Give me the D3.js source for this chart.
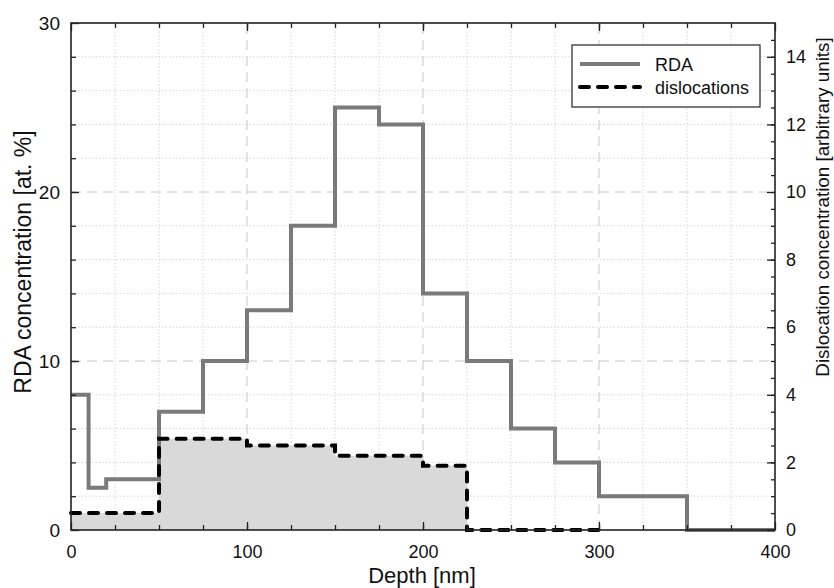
<!DOCTYPE html>
<html>
<head>
<meta charset="utf-8">
<script src="https://cdn.jsdelivr.net/npm/d3@7"></script>
<style>
  body { margin: 0; background: #fff; }
  svg text { font-family: "Liberation Sans", Arial, sans-serif; fill: #111; }
</style>
</head>
<body>
<div id="chart"></div>
<script>
var width = 834,
    height = 588;

var margin = {top: 23, right: 59, bottom: 58, left: 71};

// step edges (nm) and values
var rdaEdges = [0, 10, 20, 50, 75, 100, 125, 150, 175, 200, 225, 250, 275, 300, 350, 400];
var rdaValues = [8, 2.5, 3, 7, 10, 13, 18, 25, 24, 14, 10, 6, 4, 2, 0];

var disEdges = [0, 50, 100, 150, 200, 225, 300];
var disValues = [0.5, 2.7, 2.5, 2.2, 1.9, 0];

var xTicks = [0, 100, 200, 300, 400];
var yLeftTicks = [0, 10, 20, 30];
var yRightTicks = [0, 2, 4, 6, 8, 10, 12, 14];

var x = d3.scaleLinear().domain([0, 400]).range([margin.left, width - margin.right]);
var y = d3.scaleLinear().domain([0, 30]).range([height - margin.bottom, margin.top]);
var y2 = d3.scaleLinear().domain([0, 15]).range([height - margin.bottom, margin.top]);

var svg = d3.select("#chart").append("svg")
    .attr("width", width)
    .attr("height", height);

function steps(edges, values) {
    var pts = [];
    values.forEach(function(v, i) {
        pts.push([edges[i], v]);
        pts.push([edges[i + 1], v]);
    });
    return pts;
}

var x0 = x(0), x1 = x(400), yb = y(0), yt = y(30);

// grid: minor dotted
var grid = svg.append("g");
d3.range(25, 400, 25).filter(d => d % 100 !== 0).forEach(function(d) {
    grid.append("line").attr("x1", x(d)).attr("x2", x(d)).attr("y1", yb).attr("y2", yt)
        .attr("stroke", "#d6d6d6").attr("stroke-width", 1).attr("stroke-dasharray", "1.5,2");
});
d3.range(2, 30, 2).filter(d => d % 10 !== 0).forEach(function(d) {
    grid.append("line").attr("x1", x0).attr("x2", x1).attr("y1", y(d)).attr("y2", y(d))
        .attr("stroke", "#d6d6d6").attr("stroke-width", 1).attr("stroke-dasharray", "1.5,2");
});
// grid: major dashed
[100, 200, 300].forEach(function(d) {
    grid.append("line").attr("x1", x(d)).attr("x2", x(d)).attr("y1", yb).attr("y2", yt)
        .attr("stroke", "#c8c8c8").attr("stroke-width", 1).attr("stroke-dasharray", "10,6");
});
[10, 20].forEach(function(d) {
    grid.append("line").attr("x1", x0).attr("x2", x1).attr("y1", y(d)).attr("y2", y(d))
        .attr("stroke", "#c8c8c8").attr("stroke-width", 1).attr("stroke-dasharray", "10,6");
});

// fill under dislocations
var disPts = steps(disEdges, disValues);
var area = d3.area()
    .x(d => x(d[0]))
    .y0(y2(0))
    .y1(d => y2(d[1]));
svg.append("path")
    .datum(disPts)
    .attr("d", area)
    .attr("fill", "#d9d9d9");

// RDA line
var lineL = d3.line().x(d => x(d[0])).y(d => y(d[1]));
svg.append("path")
    .datum(steps(rdaEdges, rdaValues))
    .attr("d", lineL)
    .attr("fill", "none")
    .attr("stroke", "#7a7a7a")
    .attr("stroke-width", 4);

// dislocation line
var lineR = d3.line().x(d => x(d[0])).y(d => y2(d[1]));
svg.append("path")
    .datum(disPts)
    .attr("d", lineR)
    .attr("fill", "none")
    .attr("stroke", "#000")
    .attr("stroke-width", 4)
    .attr("stroke-dasharray", "9,9")
    .attr("stroke-linecap", "round");

// axes (ticks inward)
svg.append("g")
    .attr("transform", "translate(0," + yb + ")")
    .call(d3.axisBottom(x).tickValues(xTicks).tickSize(-8).tickPadding(15))
    .call(g => g.select(".domain").remove())
    .call(g => g.selectAll("text").style("font-size", "18px"));
svg.append("g")
    .attr("transform", "translate(0," + yb + ")")
    .call(d3.axisBottom(x).tickValues(d3.range(25, 400, 25)).tickSize(-5).tickFormat(""))
    .call(g => g.select(".domain").remove());
svg.append("g")
    .attr("transform", "translate(0," + yt + ")")
    .call(d3.axisTop(x).tickValues(xTicks).tickSize(-8).tickFormat(""))
    .call(g => g.select(".domain").remove());
svg.append("g")
    .attr("transform", "translate(0," + yt + ")")
    .call(d3.axisTop(x).tickValues(d3.range(25, 400, 25)).tickSize(-5).tickFormat(""))
    .call(g => g.select(".domain").remove());

svg.append("g")
    .attr("transform", "translate(" + x0 + ",0)")
    .call(d3.axisLeft(y).tickValues(yLeftTicks).tickSize(-8).tickPadding(11))
    .call(g => g.select(".domain").remove())
    .call(g => g.selectAll("text").style("font-size", "19px"));
svg.append("g")
    .attr("transform", "translate(" + x0 + ",0)")
    .call(d3.axisLeft(y).tickValues(d3.range(2, 30, 2)).tickSize(-5).tickFormat(""))
    .call(g => g.select(".domain").remove());

svg.append("g")
    .attr("transform", "translate(" + x1 + ",0)")
    .call(d3.axisRight(y2).tickValues(yRightTicks).tickSize(-8).tickPadding(11))
    .call(g => g.select(".domain").remove())
    .call(g => g.selectAll("text").style("font-size", "18px"));
svg.append("g")
    .attr("transform", "translate(" + x1 + ",0)")
    .call(d3.axisRight(y2).tickValues(d3.range(0.5, 15, 0.5)).tickSize(-4).tickFormat(""))
    .call(g => g.select(".domain").remove());

svg.selectAll(".tick line").attr("stroke", "#222").attr("stroke-width", 1.3);

// frame
svg.append("rect")
    .attr("x", x0).attr("y", yt)
    .attr("width", x1 - x0).attr("height", yb - yt)
    .attr("fill", "none").attr("stroke", "#222").attr("stroke-width", 1.6);

// titles
svg.append("text")
    .attr("x", (x0 + x1) / 2 - 1).attr("y", 583)
    .attr("text-anchor", "middle")
    .style("font-size", "22px")
    .text("Depth [nm]");
svg.append("text")
    .attr("transform", "translate(31,262) rotate(-90)")
    .attr("text-anchor", "middle")
    .style("font-size", "23px")
    .text("RDA concentration [at. %]");
svg.append("text")
    .attr("transform", "translate(829,207) rotate(-90)")
    .attr("text-anchor", "middle")
    .style("font-size", "18.8px")
    .text("Dislocation concentration [arbitrary units]");

// legend
var legend = svg.append("g").attr("transform", "translate(572,45)");
legend.append("rect")
    .attr("width", 188).attr("height", 62)
    .attr("fill", "#fff").attr("stroke", "#222").attr("stroke-width", 1.2);
legend.append("line")
    .attr("x1", 8).attr("x2", 68).attr("y1", 19).attr("y2", 19)
    .attr("stroke", "#7a7a7a").attr("stroke-width", 4);
legend.append("line")
    .attr("x1", 8).attr("x2", 68).attr("y1", 42).attr("y2", 42)
    .attr("stroke", "#000").attr("stroke-width", 4)
    .attr("stroke-dasharray", "9,9").attr("stroke-linecap", "round");
legend.append("text").attr("x", 83).attr("y", 26).style("font-size", "18px").text("RDA");
legend.append("text").attr("x", 83).attr("y", 49).style("font-size", "18px").text("dislocations");
</script>
</body>
</html>
